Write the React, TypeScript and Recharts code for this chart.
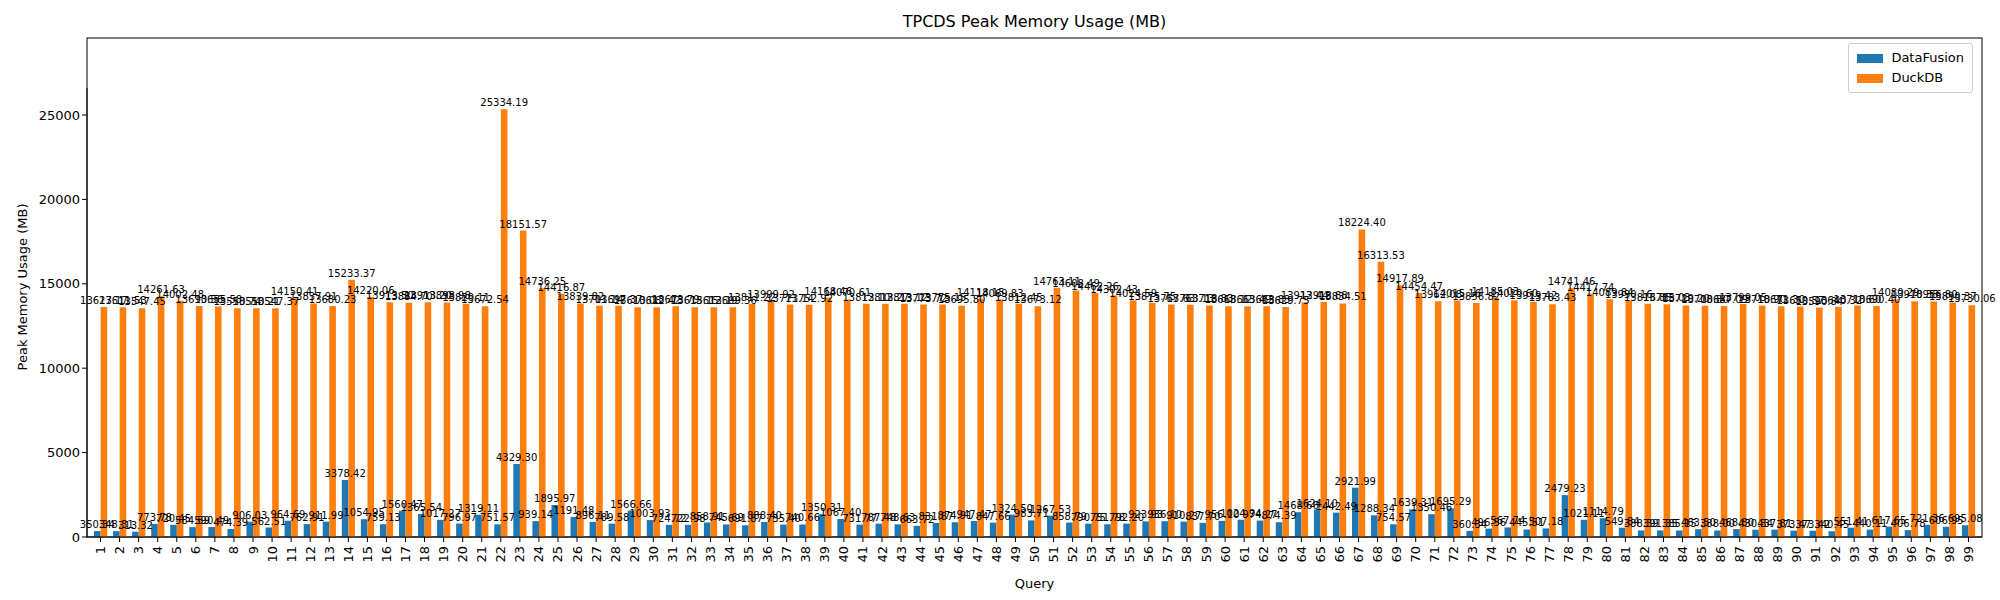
import React from 'react';
import { BarChart, Bar, XAxis, YAxis, Legend, LabelList } from 'recharts';

const queries = Array.from({ length: 99 }, (_, i) => String(i + 1));

const dataFusion = [
  350.34, 348.31, 313.32, 773.78, 720.45, 584.59, 590.49, 474.39, 906.03, 562.51,
  964.69, 762.91, 911.99, 3378.42, 1054.95, 759.13, 1560.47, 1365.54, 1017.27, 796.97,
  1319.11, 751.57, 4329.3, 939.14, 1895.97, 1191.48, 896.11, 789.58, 1566.66, 1003.93,
  724.72, 722.98, 858.91, 745.69, 691.87, 888.4, 735.4, 740.66, 1350.31, 1067.4,
  731.77, 787.48, 748.63, 663.72, 831.87, 874.91, 947.47, 847.66, 1324.5, 983.71,
  1267.53, 858.79, 790.75, 751.78, 792.2, 923.93, 936.1, 910.27, 837.7, 956.1,
  1024.94, 974.27, 874.39, 1468.66, 1624.1, 1442.49, 2921.99, 1288.34, 754.57, 1639.31,
  1350.46, 1695.29, 360.34, 496.56, 567.74, 445.51, 507.18, 2479.23, 1021.11, 1114.79,
  549.84, 388.39, 391.35, 385.15, 463.5, 388.0, 468.8, 430.34, 437.81, 373.47,
  373.42, 340.45, 551.41, 440.11, 617.65, 406.78, 721.36, 606.95, 695.08,
];

const duckDB = [
  13627.17, 13611.53, 13547.45, 14261.63, 14002.48, 13690.56, 13655.58, 13550.74, 13550.21, 13547.37,
  14150.41, 13837.91, 13680.23, 15233.37, 14220.06, 13913.5, 13884.7, 13913.2, 13898.98, 13820.11,
  13672.54, 25334.19, 18151.57, 14736.25, 14416.87, 13839.82, 13701.14, 13697.37, 13610.08, 13612.42,
  13673.79, 13615.15, 13612.19, 13609.36, 13811.22, 13999.92, 13771.14, 13752.92, 14168.46, 14070.61,
  13812.1, 13812.27, 13813.12, 13773.72, 13775.15, 13695.8, 14118.15, 14069.83, 13812.45, 13673.12,
  14763.11, 14608.49, 14462.26, 14302.43, 14024.59, 13875.75, 13767.63, 13763.13, 13718.83, 13668.12,
  13663.49, 13663.83, 13629.75, 13912.44, 13918.88, 13834.51, 18224.4, 16313.53, 14917.89, 14454.47,
  13962.08, 14015.16, 13856.82, 14185.03, 14020.6, 13919.42, 13783.43, 14741.46, 14417.74, 14089.84,
  13990.16, 13816.85, 13785.03, 13720.2, 13700.8, 13687.09, 13799.05, 13710.9, 13671.3, 13650.57,
  13590.84, 13640.32, 13710.6, 13690.4, 14080.29, 13970.35, 13956.8, 13890.37, 13730.06,
];

const yTicks = [0, 5000, 10000, 15000, 20000, 25000];

const rows = queries.map((q, i) => ({ query: q, datafusion: dataFusion[i], duckdb: duckDB[i] }));

const font = 'DejaVu Sans, sans-serif';

const QueryTick = (props: any) => {
  const { x, y, payload } = props;
  return (
    <text
      x={x}
      y={y + 2}
      transform={`rotate(-90 ${x} ${y + 2})`}
      textAnchor="end"
      dominantBaseline="central"
      fontSize={13}
      fontFamily={font}
      fill="#000"
    >
      {payload.value}
    </text>
  );
};

const LegendBox = () => (
  <div
    style={{
      border: '1px solid #ccc',
      borderRadius: 3,
      background: '#fff',
      padding: '4px 8px',
      fontFamily: font,
      fontSize: 13,
      lineHeight: '20px',
    }}
  >
    {[
      ['DataFusion', '#1f77b4'],
      ['DuckDB', '#ff7f0e'],
    ].map(([name, color]) => (
      <div key={name} style={{ display: 'flex', alignItems: 'center' }}>
        <span style={{ width: 26, height: 9, background: color, marginRight: 8, display: 'inline-block' }} />
        {name}
      </div>
    ))}
  </div>
);

export default function App() {
  return (
    <div style={{ position: 'absolute', left: 0, top: 0, width: 2000, height: 600, background: '#fff' }}>
      <div
        style={{
          position: 'absolute',
          top: 12,
          left: 87,
          width: 1895,
          textAlign: 'center',
          fontFamily: font,
          fontSize: 16,
        }}
      >
        TPCDS Peak Memory Usage (MB)
      </div>
      <div
        style={{
          position: 'absolute',
          left: 22,
          top: 287,
          transform: 'translate(-50%, -50%) rotate(-90deg)',
          whiteSpace: 'nowrap',
          fontFamily: font,
          fontSize: 13,
        }}
      >
        Peak Memory Usage (MB)
      </div>
      <BarChart
        width={2000}
        height={600}
        data={rows}
        margin={{ top: 38, right: 18, bottom: 0, left: 27 }}
        barGap={0}
        barSize={6.6}
      >
        <XAxis
          dataKey="query"
          interval={0}
          height={63}
          tick={<QueryTick />}
          tickSize={5}
          stroke="#000"
          padding={{ left: 4, right: 4 }}
          label={{ value: 'Query', position: 'insideBottom', offset: 12, fontFamily: font, fontSize: 13, fill: '#000' }}
        />
        <YAxis
          domain={[0, 26600]}
          ticks={yTicks}
          width={60}
          stroke="#000"
          tick={{ fontSize: 13, fontFamily: font, fill: '#000' }}
          tickSize={5}
        />
        <Legend
          verticalAlign="top"
          align="right"
          content={<LegendBox />}
          wrapperStyle={{ position: 'absolute', top: 43, right: 27, left: 'auto', width: 'auto' }}
        />
        <Bar dataKey="datafusion" name="DataFusion" fill="#1f77b4" isAnimationActive={false}>
          <LabelList
            dataKey="datafusion"
            position="top"
            offset={3}
            formatter={(v: any) => Number(v).toFixed(2)}
            style={{ fontSize: 10, fontFamily: font, fill: '#000' }}
          />
        </Bar>
        <Bar dataKey="duckdb" name="DuckDB" fill="#ff7f0e" isAnimationActive={false}>
          <LabelList
            dataKey="duckdb"
            position="top"
            offset={3}
            formatter={(v: any) => Number(v).toFixed(2)}
            style={{ fontSize: 10, fontFamily: font, fill: '#000' }}
          />
        </Bar>
        <rect x={87} y={38} width={1895} height={499} fill="none" stroke="#000" />
      </BarChart>
    </div>
  );
}
